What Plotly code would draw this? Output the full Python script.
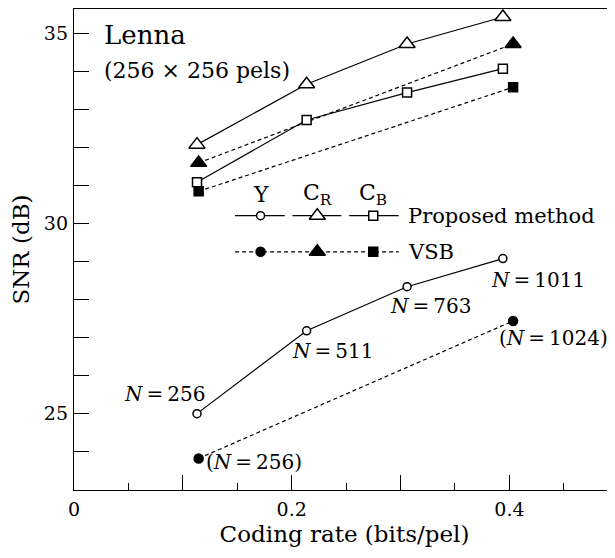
import plotly.graph_objects as go

# ---- data ----
rate_prop = [0.113, 0.2137, 0.306, 0.394]
snr_y_prop = [25.0, 27.18, 28.34, 29.08]
snr_cr_prop = [32.08, 33.67, 34.73, 35.44]
snr_cb_prop = [31.09, 32.73, 33.45, 34.08]

rate_vsb = [0.1145, 0.4034]
snr_y_vsb = [23.82, 27.44]
snr_cr_vsb = [31.6, 34.73]
snr_cb_vsb = [30.85, 33.59]

n_prop = ["256", "511", "763", "1011"]
n_vsb = ["256", "1024"]

x_tick_vals = [0, 0.1, 0.2, 0.3, 0.4]
x_tick_text = ["0", " ", "0.2", " ", "0.4"]
y_tick_vals = [23, 24, 25, 26, 27, 28, 29, 30, 31, 32, 33, 34, 35]
y_tick_text = [" ", " ", "25", " ", " ", " ", " ", "30", " ", " ", " ", " ", "35"]

FONT = "DejaVu Serif"
DASH = "4px,3px"

fig = go.Figure()

def series(x, y, dash, symbol, fill, size):
    fig.add_trace(go.Scatter(
        x=x, y=y, mode="lines+markers",
        line=dict(color="black", width=1.2, dash=dash),
        marker=dict(symbol=symbol, size=size, color=fill,
                    line=dict(color="black", width=1.5)),
        showlegend=False, hoverinfo="skip"))

series(rate_vsb, snr_y_vsb, DASH, "circle", "black", 9)
series(rate_vsb, snr_cr_vsb, DASH, "triangle-up", "black", 14)
series(rate_vsb, snr_cb_vsb, DASH, "square", "black", 9)
series(rate_prop, snr_y_prop, "solid", "circle", "white", 8)
series(rate_prop, snr_cr_prop, "solid", "triangle-up", "white", 14)
series(rate_prop, snr_cb_prop, "solid", "square", "white", 9)

# ---- custom legend (inside the plot) ----
leg_segs = [(0.148, 0.1714, 0.1936), (0.2007, 0.2235, 0.2456), (0.2528, 0.2749, 0.2983)]
leg_syms = ["circle", "triangle-up", "square"]
leg_sizes = [8, 14, 9]
leg_heads = ["Y", "C<sub>R</sub>", "C<sub>B</sub>"]
leg_row_prop = 30.21
leg_row_vsb = 29.26
leg_head_y = 30.76
leg_text_x = 0.3049

for (a, m, b), sym, sz in zip(leg_segs, leg_syms, leg_sizes):
    fig.add_trace(go.Scatter(
        x=[a, b], y=[leg_row_prop, leg_row_prop], mode="lines",
        line=dict(color="black", width=1.2), showlegend=False, hoverinfo="skip"))
    fig.add_trace(go.Scatter(
        x=[m], y=[leg_row_prop], mode="markers",
        marker=dict(symbol=sym, size=sz, color="white", line=dict(color="black", width=1.5)),
        showlegend=False, hoverinfo="skip"))
fig.add_trace(go.Scatter(
    x=[leg_segs[0][0], leg_segs[-1][2]], y=[leg_row_vsb, leg_row_vsb], mode="lines",
    line=dict(color="black", width=1.2, dash=DASH), showlegend=False, hoverinfo="skip"))
for (a, m, b), sym, sz in zip(leg_segs, leg_syms, leg_sizes):
    fig.add_trace(go.Scatter(
        x=[m], y=[leg_row_vsb], mode="markers",
        marker=dict(symbol=sym, size=sz + (1 if sym == "circle" else 0), color="black",
                    line=dict(color="black", width=1.5)),
        showlegend=False, hoverinfo="skip"))

ann = []
for (a, m, b), h in zip(leg_segs, leg_heads):
    ann.append(dict(x=m, y=leg_head_y, xref="x", yref="y", text=h, showarrow=False,
                    font=dict(family=FONT, size=22, color="black"), xanchor="center", yanchor="middle"))
ann.append(dict(x=leg_text_x, y=leg_row_prop, xref="x", yref="y", text="Proposed method",
                showarrow=False, font=dict(family=FONT, size=21, color="black"),
                xanchor="left", yanchor="middle"))
ann.append(dict(x=leg_text_x, y=leg_row_vsb, xref="x", yref="y", text="VSB",
                showarrow=False, font=dict(family=FONT, size=21, color="black"),
                xanchor="left", yanchor="middle"))

# title texts
ann.append(dict(x=0.052, y=0.946, xref="paper", yref="paper", text="Lenna", showarrow=False,
                font=dict(family=FONT, size=26, color="black"), xanchor="left", yanchor="middle"))
ann.append(dict(x=0.052, y=0.873, xref="paper", yref="paper", text="(256 × 256 pels)",
                showarrow=False, font=dict(family=FONT, size=22, color="black"),
                xanchor="left", yanchor="middle"))

# N labels
prop_offsets = [("right", 10, 20), ("left", -17, -20), ("left", -19, -19), ("left", -14, -21)]
for xv, yv, n, (anc, dx, dy) in zip(rate_prop, snr_y_prop, n_prop, prop_offsets):
    ann.append(dict(x=xv, y=yv, xref="x", yref="y", text="<i>N</i>\u2009=\u2009" + n,
                    showarrow=False, font=dict(family=FONT, size=20, color="black"),
                    xanchor=anc, yanchor="middle", xshift=dx, yshift=dy))
vsb_offsets = [("left", 5, -4), ("left", -16, -17)]
for xv, yv, n, (anc, dx, dy) in zip(rate_vsb, snr_y_vsb, n_vsb, vsb_offsets):
    ann.append(dict(x=xv, y=yv, xref="x", yref="y", text="(<i>N</i>\u2009=\u2009" + n + ")",
                    showarrow=False, font=dict(family=FONT, size=20, color="black"),
                    xanchor=anc, yanchor="middle", xshift=dx, yshift=dy))

fig.update_layout(
    width=607, height=550,
    margin=dict(l=66, r=0, t=1, b=68),
    paper_bgcolor="white", plot_bgcolor="white",
    font=dict(family=FONT, color="black"),
    annotations=ann,
    xaxis=dict(range=[0, 0.497], showgrid=False, zeroline=False,
               showline=True, linecolor="black", linewidth=1.3, mirror=True,
               tickmode="array", tickvals=x_tick_vals, ticktext=x_tick_text,
               ticks="inside", ticklen=15, tickwidth=1.2, tickcolor="black",
               minor=dict(dtick=0.05, ticks="inside", ticklen=7, tickwidth=1.2, tickcolor="black"),
               tickfont=dict(family=FONT, size=19, color="black"),
               ticklabelstandoff=2,
               title=dict(text="Coding rate (bits/pel)", font=dict(family=FONT, size=23, color="black"),
                          standoff=6)),
    yaxis=dict(range=[22.99, 35.65], showgrid=False, zeroline=False,
               showline=True, linecolor="black", linewidth=1.3,
               tickmode="array", tickvals=y_tick_vals, ticktext=y_tick_text,
               ticks="inside", ticklen=15, tickwidth=1.2, tickcolor="black",
               tickfont=dict(family=FONT, size=19, color="black"),
               ticklabelstandoff=1,
               title=dict(text="SNR (dB)", font=dict(family=FONT, size=23, color="black"),
                          standoff=8)),
)

fig.write_html("out.html")
